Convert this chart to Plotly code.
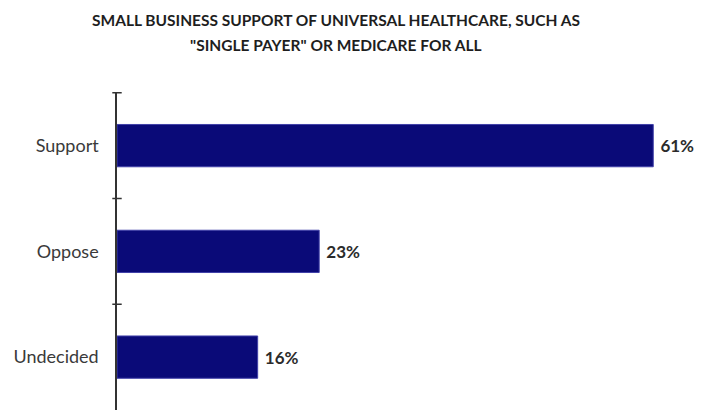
import plotly.graph_objects as go

# Survey responses
categories = ["Support", "Oppose", "Undecided"]
shares = [61, 23, 16]
value_labels = [f"{v}%" for v in shares]

title_lines = [
    "SMALL BUSINESS SUPPORT OF UNIVERSAL HEALTHCARE, SUCH AS",
    "\"SINGLE PAYER\" OR MEDICARE FOR ALL",
]

BAR_COLOR = "#0a0a78"
TEXT_COLOR = "#2b2b2b"
FONT = "Lato, 'Open Sans', sans-serif"

fig = go.Figure(
    go.Bar(
        y=categories,
        x=shares,
        orientation="h",
        marker=dict(color=BAR_COLOR, line=dict(color="#4040a8", width=1)),
        text=value_labels,
        texttemplate="\u00a0%{text}",
        textposition="outside",
        cliponaxis=False,
        textfont=dict(family=FONT, size=17, color=TEXT_COLOR, weight="bold"),
        width=0.4,
    )
)

# Small tick marks across the category axis at the band boundaries
n = len(categories)
shapes = []
for k in range(n):
    b = k - 0.5
    shapes.append(
        dict(type="line", xref="paper", yref="y", x0=-0.008, x1=0.008,
             y0=b, y1=b, line=dict(color="#333333", width=1.5))
    )

# Two-line heading, one annotation per line
title_y = [1.226, 1.148]
annotations = [
    dict(text=line, xref="paper", yref="paper", x=0.372, y=yy,
         xanchor="center", yanchor="middle", showarrow=False,
         font=dict(family=FONT, size=15.5, color="#1e1e1e", weight="bold"))
    for line, yy in zip(title_lines, title_y)
]

fig.update_layout(
    width=706,
    height=410,
    margin=dict(l=117, r=0, t=92, b=0),
    paper_bgcolor="white",
    plot_bgcolor="white",
    showlegend=False,
    shapes=shapes,
    annotations=annotations,
    xaxis=dict(
        range=[0, 67],
        visible=False,
        fixedrange=True,
    ),
    yaxis=dict(
        categoryorder="array",
        categoryarray=categories,
        autorange="reversed",
        range=[n - 0.5, -0.5],
        showline=True,
        linecolor="#333333",
        linewidth=1.5,
        ticks="",
        ticklabelstandoff=13,
        tickfont=dict(family=FONT, size=18, color="#3a3a3a"),
        showgrid=False,
        zeroline=False,
    ),
)

fig.write_html("out.html")
